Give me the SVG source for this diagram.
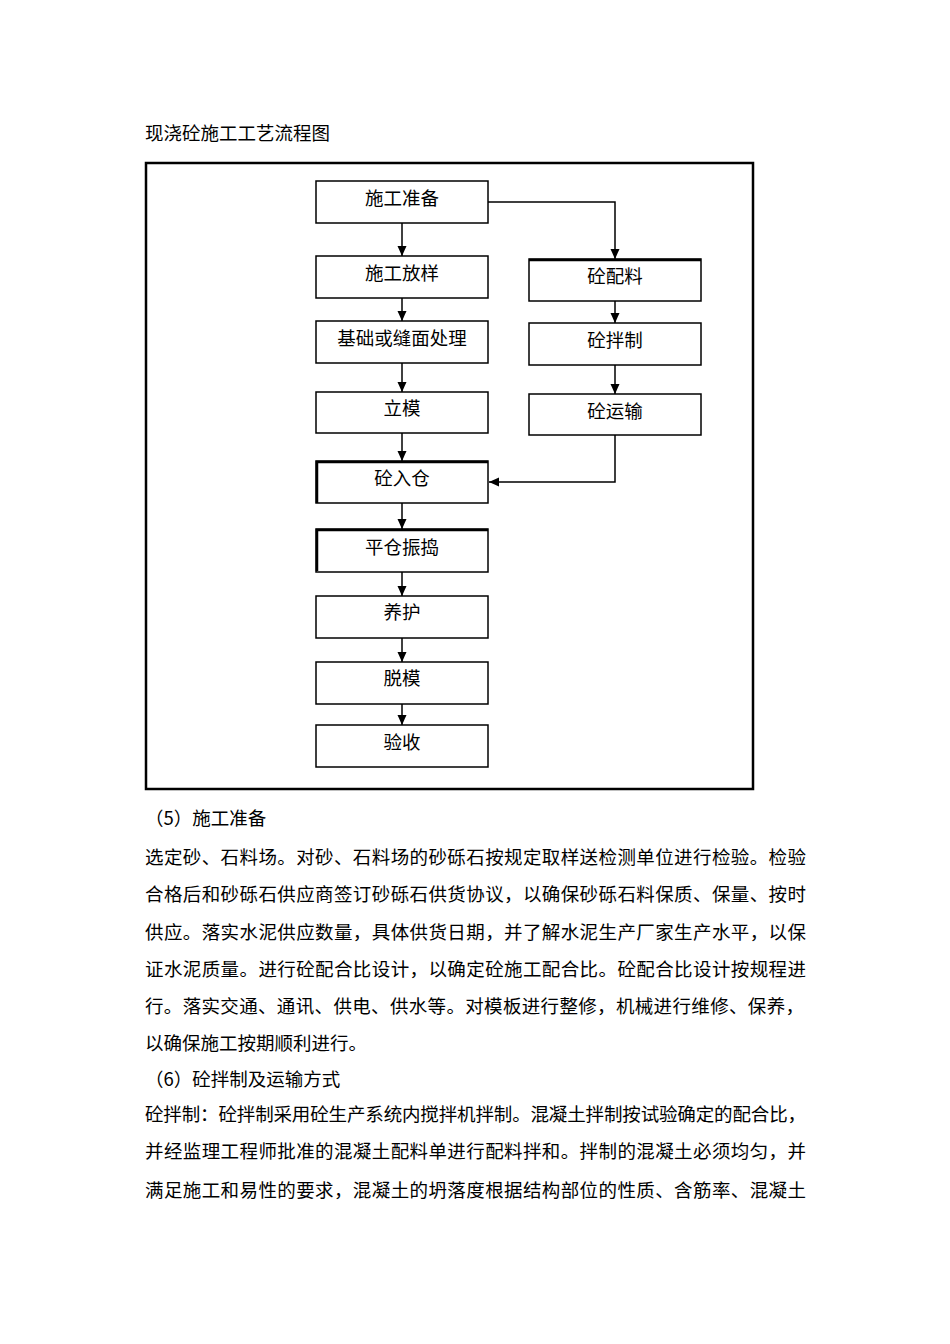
<svg xmlns="http://www.w3.org/2000/svg" width="950" height="1344" viewBox="0 0 950 1344">
<style>
text{font-family:"Noto Sans CJK SC","Liberation Serif",sans-serif;font-size:18.5px;fill:#000}
.box{fill:#fff;stroke:#000;stroke-width:1.5}
.edge{fill:none;stroke:#000;stroke-width:2.5}
.lbl{text-anchor:middle}
.con{fill:none;stroke:#000;stroke-width:1.5}
</style>
<defs>
<marker id="arr" markerUnits="userSpaceOnUse" markerWidth="10" markerHeight="10" refX="10" refY="5" orient="auto">
<path d="M0,0.5 L10,5 L0,9.5 z" fill="#000"/>
</marker>
</defs>
<rect width="950" height="1344" fill="#fff"/>
<text x="145" y="140">现浇砼施工工艺流程图</text>
<rect x="146" y="163" width="607" height="626" fill="none" stroke="#000" stroke-width="2.5"/>
<g id="connectors">
<path class="con" d="M402,223 V256" marker-end="url(#arr)"/>
<path class="con" d="M402,298 V321" marker-end="url(#arr)"/>
<path class="con" d="M402,363 V392" marker-end="url(#arr)"/>
<path class="con" d="M402,433 V461" marker-end="url(#arr)"/>
<path class="con" d="M402,503 V529" marker-end="url(#arr)"/>
<path class="con" d="M402,572 V596" marker-end="url(#arr)"/>
<path class="con" d="M402,638 V662" marker-end="url(#arr)"/>
<path class="con" d="M402,704 V725" marker-end="url(#arr)"/>
<path class="con" d="M488,202 H615 V259" marker-end="url(#arr)"/>
<path class="con" d="M615,301 V323" marker-end="url(#arr)"/>
<path class="con" d="M615,365 V394" marker-end="url(#arr)"/>
<path class="con" d="M615,435 V482 H489" marker-end="url(#arr)"/>
</g>
<g id="n1"><rect class="box" x="316" y="181" width="172" height="42"/><text class="lbl" x="402" y="205">施工准备</text></g>
<g id="n2"><rect class="box" x="316" y="256" width="172" height="42"/><text class="lbl" x="402" y="280">施工放样</text></g>
<g id="n3"><rect class="box" x="316" y="321" width="172" height="42"/><text class="lbl" x="402" y="345">基础或缝面处理</text></g>
<g id="n4"><rect class="box" x="316" y="392" width="172" height="41"/><text class="lbl" x="402" y="415">立模</text></g>
<g id="n5"><rect class="box" x="316" y="461" width="172" height="42"/><path class="edge" d="M317,503 V462 H488"/><text class="lbl" x="402" y="485">砼入仓</text></g>
<g id="n6"><rect class="box" x="316" y="529" width="172" height="43"/><path class="edge" d="M317,571 V530 H488"/><text class="lbl" x="402" y="554">平仓振捣</text></g>
<g id="n7"><rect class="box" x="316" y="596" width="172" height="42"/><text class="lbl" x="402" y="619">养护</text></g>
<g id="n8"><rect class="box" x="316" y="662" width="172" height="42"/><text class="lbl" x="402" y="685">脱模</text></g>
<g id="n9"><rect class="box" x="316" y="725" width="172" height="42"/><text class="lbl" x="402" y="749">验收</text></g>
<g id="r1"><rect class="box" x="529" y="259" width="172" height="42"/><path class="edge" d="M529,260 H701"/><text class="lbl" x="615" y="283">砼配料</text></g>
<g id="r2"><rect class="box" x="529" y="323" width="172" height="42"/><text class="lbl" x="615" y="347">砼拌制</text></g>
<g id="r3"><rect class="box" x="529" y="394" width="172" height="41"/><text class="lbl" x="615" y="418">砼运输</text></g>
<g id="body">
<text x="145" y="825">（5）施工准备</text>
<text x="145" y="864" textLength="661" lengthAdjust="spacing">选定砂、石料场。对砂、石料场的砂砾石按规定取样送检测单位进行检验。检验</text>
<text x="145" y="901" textLength="661" lengthAdjust="spacing">合格后和砂砾石供应商签订砂砾石供货协议，以确保砂砾石料保质、保量、按时</text>
<text x="145" y="939" textLength="661" lengthAdjust="spacing">供应。落实水泥供应数量，具体供货日期，并了解水泥生产厂家生产水平，以保</text>
<text x="145" y="976" textLength="661" lengthAdjust="spacing">证水泥质量。进行砼配合比设计，以确定砼施工配合比。砼配合比设计按规程进</text>
<text x="145" y="1013" textLength="659" lengthAdjust="spacing">行。落实交通、通讯、供电、供水等。对模板进行整修，机械进行维修、保养，</text>
<text x="145" y="1050">以确保施工按期顺利进行。</text>
<text x="145" y="1086">（6）砼拌制及运输方式</text>
<text x="145" y="1121" textLength="661" lengthAdjust="spacing">砼拌制：砼拌制采用砼生产系统内搅拌机拌制。混凝土拌制按试验确定的配合比，</text>
<text x="145" y="1158" textLength="661" lengthAdjust="spacing">并经监理工程师批准的混凝土配料单进行配料拌和。拌制的混凝土必须均匀，并</text>
<text x="145" y="1197" textLength="661" lengthAdjust="spacing">满足施工和易性的要求，混凝土的坍落度根据结构部位的性质、含筋率、混凝土</text>
</g>
</svg>
